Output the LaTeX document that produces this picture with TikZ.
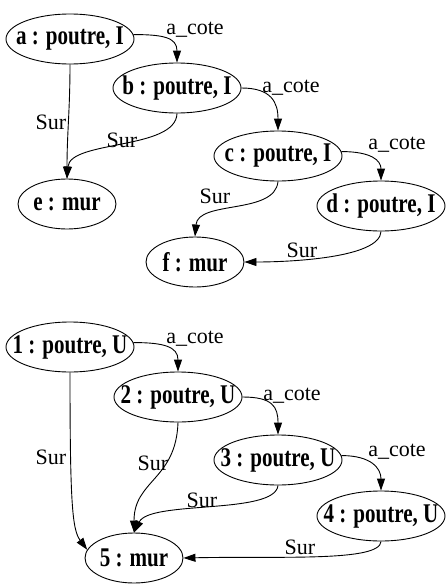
\documentclass[tikz,border=0pt]{standalone}
\usepackage{fontspec}
\setmainfont{Liberation Serif}
\newfontfamily\entfont[FakeStretch=0.78,UprightFont={* Bold}]{Liberation Serif}
\usetikzlibrary{shapes.geometric,arrows.meta}
% zero-width label so the ellipse keeps its fixed size
\newcommand{\entxt}[1]{\makebox[0pt]{#1}}
\begin{document}
\begin{tikzpicture}[x=1pt,y=-1pt,
  ent/.style={ellipse,draw,line width=0.9pt,inner sep=0pt,minimum height=50pt,
    font=\entfont\fontsize{27}{30}\selectfont},
  beam/.style={ent,minimum width=128pt},
  wall/.style={ent,minimum width=98pt},
  rel/.style={line width=0.9pt,-{Triangle[length=12pt,width=8pt]}},
  lbl/.style={inner sep=0pt,font=\fontsize{22}{25}\selectfont}]
\useasboundingbox (0,0) rectangle (445,584);

% first group: letters
\node[beam] (a) at (70,39)  {\entxt{a : poutre, I}};
\node[beam] (b) at (177,88) {\entxt{b : poutre, I}};
\node[beam] (c) at (278,156){\entxt{c : poutre, I}};
\node[beam] (d) at (381,206){\entxt{d : poutre, I}};
\node[wall] (e) at (67,204) {\entxt{e : mur}};
\node[wall] (f) at (195,262){\entxt{f : mur}};

\draw[rel] (a.4) .. controls +(30,0) and +(0,-25) .. (b.north);
\draw[rel] (b.east) .. controls +(30,0) and +(0,-28) .. (c.north);
\draw[rel] (c.4) .. controls +(30,0) and +(0,-20) .. (d.north);
\draw[rel] (a.south) .. controls +(0,45) and +(0,-45) .. (e.north);
\draw[rel] (b.south) .. controls (176,150) and (70,140) .. (e.north);
\draw[rel] (c.south) .. controls (275,215) and (198,200) .. (f.north);
\draw[rel] (d.south) .. controls (380,258) and (290,262) .. (f.east);

\node[lbl] (lab) at (195,30)  {a\_cote};
\node[lbl] (lbc) at (291,88)  {a\_cote};
\node[lbl] (lcd) at (397,145) {a\_cote};
\node[lbl] (lae) at (51,122)  {Sur};
\node[lbl] (lbe) at (122,140) {Sur};
\node[lbl] (lcf) at (215,196) {Sur};
\node[lbl] (ldf) at (302,250) {Sur};

% second group: digits
\node[beam] (n1) at (70,347)  {\entxt{1 : poutre, U}};
\node[beam] (n2) at (178,397) {\entxt{2 : poutre, U}};
\node[beam] (n3) at (278,460) {\entxt{3 : poutre, U}};
\node[beam] (n4) at (381,516) {\entxt{4 : poutre, U}};
\node[wall] (n5) at (134,558) {\entxt{5 : mur}};

\draw[rel] (n1.4) .. controls +(30,0) and +(0,-25) .. (n2.north);
\draw[rel] (n2.east) .. controls +(30,0) and +(0,-28) .. (n3.north);
\draw[rel] (n3.4) .. controls +(30,0) and +(0,-22) .. (n4.north);
\draw[rel] (n1.south) .. controls +(0,130) and +(-15,-20) .. (n5.170);
\draw[rel] (n2.south) .. controls (176,480) and (134,480) .. (n5.north);
\draw[rel] (n3.south) .. controls (275,515) and (150,500) .. (n5.north);
\draw[rel] (n4.south) .. controls (380,562) and (280,556) .. (n5.east);

\node[lbl] (l12) at (195,339) {a\_cote};
\node[lbl] (l23) at (292,396) {a\_cote};
\node[lbl] (l34) at (397,452) {a\_cote};
\node[lbl] (l15) at (51,457)  {Sur};
\node[lbl] (l25) at (153,463) {Sur};
\node[lbl] (l35) at (202,500) {Sur};
\node[lbl] (l45) at (300,547) {Sur};
\end{tikzpicture}
\end{document}
